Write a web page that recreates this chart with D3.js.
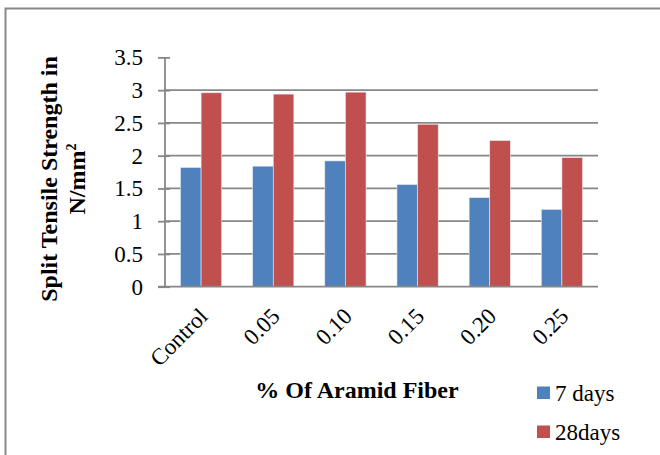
<!DOCTYPE html>
<html><head><meta charset="utf-8">
<script src="https://cdn.jsdelivr.net/npm/d3@7"></script>
<style>body{margin:0;background:#fff}svg{display:block}text{font-family:"Liberation Serif","Times New Roman",serif}</style>
</head><body>
<svg id="c" width="660" height="455"></svg>
<script>
const categories = ["Control","0.05","0.10","0.15","0.20","0.25"];
const days7 = [1.82,1.84,1.92,1.56,1.36,1.18];
const days28 = [2.96,2.94,2.97,2.48,2.23,1.97];
const seriesNames = ["7 days","28days"];
const seriesColors = ["#4F81BD","#C0504D"];
const yTicks = [0,0.5,1,1.5,2,2.5,3,3.5];

const FS = 23, TFS = 24;
const svg = d3.select("#c");
svg.append("rect").attr("x",5.5).attr("y",8.5).attr("width",660).attr("height",460)
  .attr("fill","#fff").attr("stroke","#898989").attr("stroke-width",2);

const L=165, R=598, T=57.4, B=286.7;
const x = d3.scaleBand().domain(categories).range([L,R]).paddingInner(0.4286).paddingOuter(0.2143);
const y = d3.scaleLinear().domain([0,3.5]).range([B,T]);

// gridlines (none at the top value)
svg.append("g").selectAll("line").data(yTicks.filter(d=>d>0 && d<3.5)).join("line")
  .attr("x1",L).attr("x2",R).attr("y1",d=>y(d)).attr("y2",d=>y(d))
  .attr("stroke","#878787").attr("stroke-width",1.8);

const x1 = d3.scaleBand().domain([0,1]).range([0,x.bandwidth()]);
const data = categories.map((c,i)=>[days7[i],days28[i]]);
const g = svg.append("g");
data.forEach((vals,i)=>{
  g.selectAll(null).data(vals).join("rect")
    .attr("x",(d,j)=>x(categories[i])+x1(j))
    .attr("y",d=>y(d)).attr("width",x1.bandwidth()).attr("height",d=>B-y(d))
    .attr("fill",(d,j)=>seriesColors[j]).attr("stroke","#e8ecf4").attr("stroke-width",0.6);
});

// y axis
const yAxis = d3.axisLeft(y).tickValues(yTicks).tickSize(7).tickPadding(15).tickFormat(d=>String(d));
const ya = svg.append("g").attr("transform",`translate(${L},0)`).call(yAxis);
ya.attr("font-family",null).attr("font-size",null);
ya.select(".domain").attr("stroke","#878787").attr("stroke-width",1.8).attr("d",`M0,${T}V${B}`);
ya.selectAll(".tick line").attr("stroke","#878787").attr("stroke-width",1.8).attr("x1",5);
ya.selectAll(".tick text").attr("font-size",FS).attr("fill","#000");

// x axis baseline
svg.append("line").attr("x1",L-7).attr("x2",R).attr("y1",B).attr("y2",B).attr("stroke","#878787").attr("stroke-width",1.8);

// x labels
svg.append("g").selectAll("text").data(categories).join("text")
  .attr("transform",d=>`translate(${x(d)+x.bandwidth()/2+8},${B+31}) rotate(-45)`)
  .attr("text-anchor","end").attr("font-size",FS).text(d=>d);

// axis titles
svg.append("text").attr("x",357).attr("y",397.5).attr("text-anchor","middle")
  .attr("font-size",TFS).attr("font-weight","bold").text("% Of Aramid Fiber");
const yt = svg.append("text").attr("transform","translate(0,179) rotate(-90)")
  .attr("text-anchor","middle").attr("font-size",TFS).attr("font-weight","bold");
yt.append("tspan").attr("x",0).attr("y",57).text("Split Tensile Strength in");
const t2 = yt.append("tspan").attr("x",0).attr("y",85).text("N/mm");
t2.append("tspan").attr("font-size",14).attr("dy",-9).text("2");

// legend
const lg = svg.append("g");
seriesNames.forEach((n,i)=>{
  const yy = 401 + i*39;
  lg.append("rect").attr("x",537).attr("y",yy-14.5).attr("width",13).attr("height",12.5).attr("fill",seriesColors[i]);
  lg.append("text").attr("x",555).attr("y",yy).attr("font-size",FS).text(n);
});
</script>
</body></html>
